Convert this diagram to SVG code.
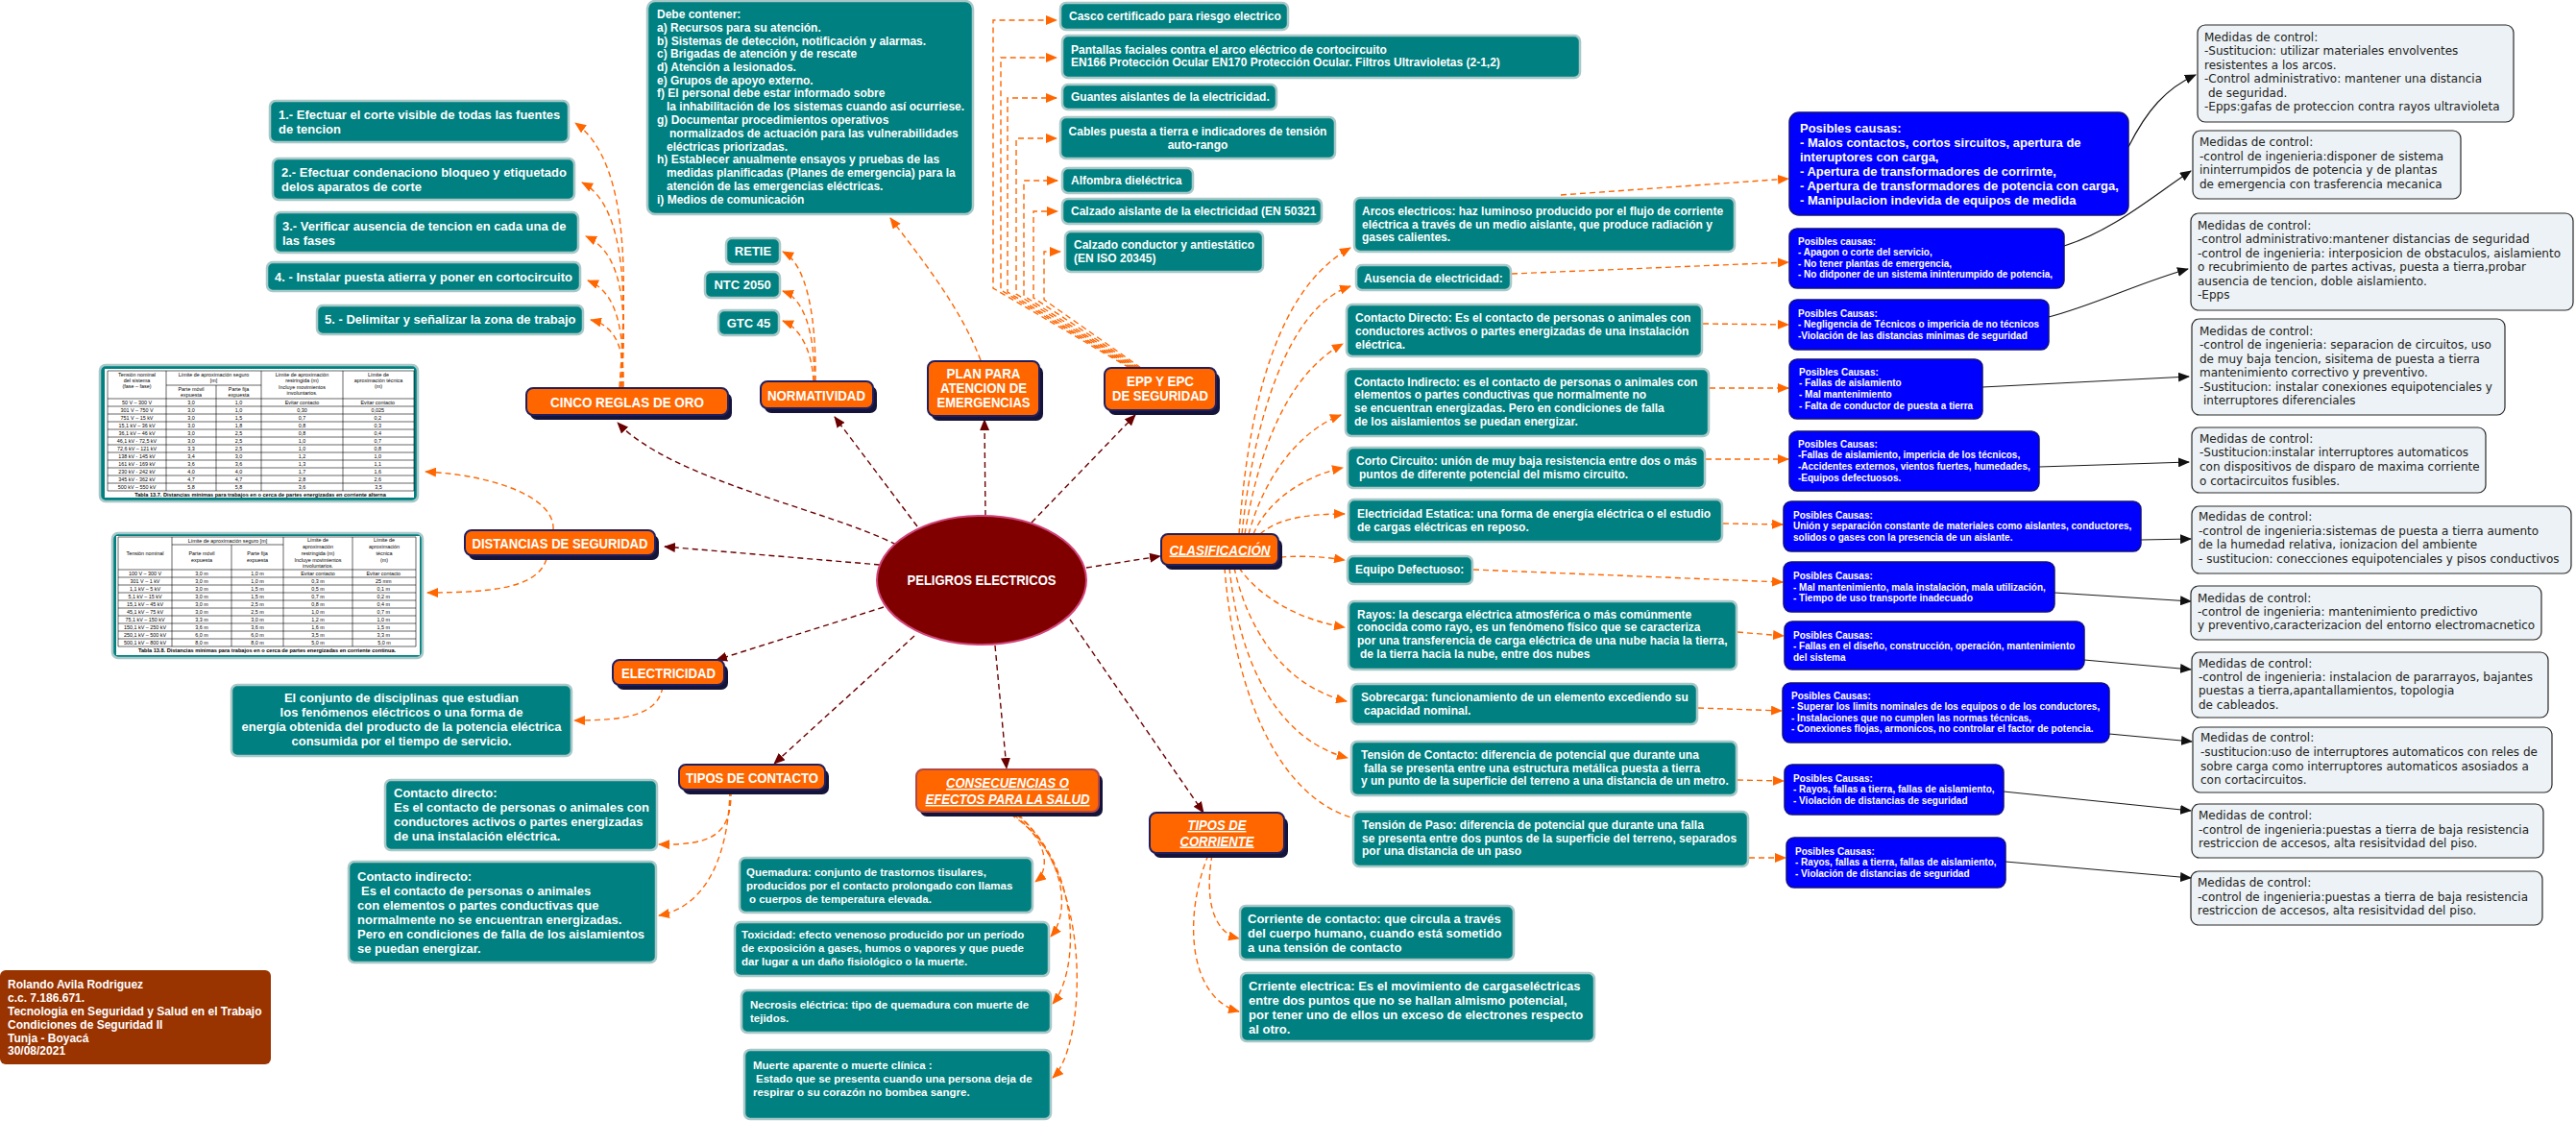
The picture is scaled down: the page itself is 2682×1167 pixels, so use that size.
<svg xmlns="http://www.w3.org/2000/svg" width="2682" height="1167" viewBox="0 0 2682 1167">
<style>
.teal{fill:#008080;stroke:#a8c8c8;stroke-width:2.5}
.org{fill:#ff6600;stroke:#202060;stroke-width:2}
.orr{fill:#ff6600;stroke:#b04848;stroke-width:2}
.sh{fill:#14143a}
.blue{fill:#0000ff;stroke:#101080;stroke-width:1.5}
.med{fill:#ecf2f5;stroke:#2a2a2a;stroke-width:1.2}
.wh{fill:#fff}
text{font-family:"Liberation Sans",Arial,sans-serif}
.w{fill:#fff;font-weight:bold}
.s13{font-size:13px}
.s12{font-size:12px}
.s115{font-size:11.5px}
.s10{font-size:10px}
.lab{fill:#fff;font-weight:bold;font-size:13px;text-anchor:middle}
.lb{fill:#fff;font-weight:bold;font-size:14.5px;text-anchor:middle}
.it{font-style:italic;text-decoration:underline}
.mt{font-family:"DejaVu Sans",Verdana,sans-serif;font-size:12px;fill:#222}
.tt{font-size:5.4px;fill:#000;text-anchor:middle}
.tc{font-size:5.6px;fill:#000;font-weight:bold;text-anchor:middle}
.tl{stroke:#000;stroke-width:0.6;fill:none}
.co{fill:none;stroke:#ff6600;stroke-width:1.4;stroke-dasharray:6 4}
.cr{fill:none;stroke:#6b0000;stroke-width:1.4;stroke-dasharray:6 4}
.cb{fill:none;stroke:#1a1a1a;stroke-width:1.2}
</style>
<defs>
<marker id="ao" viewBox="0 0 12 10" refX="11" refY="5" markerWidth="12" markerHeight="10" markerUnits="userSpaceOnUse" orient="auto"><path d="M0,0L12,5L0,10z" fill="#ff6600"/></marker>
<marker id="ar" viewBox="0 0 12 10" refX="11" refY="5" markerWidth="12" markerHeight="10" markerUnits="userSpaceOnUse" orient="auto"><path d="M0,0L12,5L0,10z" fill="#6b0000"/></marker>
<marker id="ab" viewBox="0 0 12 10" refX="11" refY="5" markerWidth="12" markerHeight="10" markerUnits="userSpaceOnUse" orient="auto"><path d="M0,0L12,5L0,10z" fill="#111"/></marker>
</defs>
<rect width="2682" height="1167" fill="#fff"/>

<g id="connectors">
<g marker-end="url(#ar)" class="cr">
<path d="M933,567 C860,530 700,500 643,440"/>
<path d="M916,588 L692,569"/>
<path d="M955,548 L869,434"/>
<path d="M1026,537 L1025,437"/>
<path d="M1074,544 L1182,432"/>
<path d="M1131,591 L1208,579"/>
<path d="M920,632 L746,687"/>
<path d="M952,662 L806,795"/>
<path d="M1036,672 L1048,800"/>
<path d="M1114,645 L1253,846"/>
</g>
<g marker-end="url(#ao)" class="co">
<path d="M645,403 C652,300 658,170 599,128"/>
<path d="M646,403 C652,320 654,215 606,190"/>
<path d="M647,403 C652,330 652,265 610,246"/>
<path d="M648,403 C650,350 645,305 612,292"/>
<path d="M649,403 C650,370 645,340 615,333"/>
<path d="M576,551 C578,520 520,495 443,491"/>
<path d="M569,582 C560,610 520,617 445,617"/>
<path d="M690,715 C685,745 650,750 598,750"/>
<path d="M849,397 C850,330 840,275 815,262"/>
<path d="M848,397 C848,340 835,310 815,303"/>
<path d="M847,397 C845,360 830,340 815,334"/>
<path d="M1021,375 C1000,320 960,270 927,227"/>
<path d="M1176,383 L1034,300 L1034,21 L1100,21"/>
<path d="M1178,383 L1042,302 L1042,60 L1100,60"/>
<path d="M1180,383 L1049,304 L1049,102 L1100,102"/>
<path d="M1182,383 L1058,306 L1058,144 L1100,144"/>
<path d="M1184,383 L1066,308 L1066,188 L1101,188"/>
<path d="M1186,383 L1076,310 L1076,220 L1101,220"/>
<path d="M1188,383 L1087,312 L1087,262 L1104,262"/>
<path d="M1290,556 C1300,420 1330,300 1406,258"/>
<path d="M1293,556 C1305,440 1340,320 1406,298"/>
<path d="M1296,556 C1310,470 1340,390 1398,358"/>
<path d="M1300,556 C1315,500 1350,450 1396,432"/>
<path d="M1305,556 C1320,520 1360,495 1398,487"/>
<path d="M1312,556 C1330,540 1360,535 1400,535"/>
<path d="M1333,580 C1360,578 1380,580 1400,583"/>
<path d="M1290,591 C1310,620 1350,645 1400,653"/>
<path d="M1285,591 C1300,660 1340,715 1402,730"/>
<path d="M1280,591 C1290,690 1330,770 1403,789"/>
<path d="M1625,203 L1862,186"/>
<path d="M1574,285 L1862,273"/>
<path d="M1773,337 L1862,338"/>
<path d="M1780,404 L1862,404"/>
<path d="M1776,478 L1862,478"/>
<path d="M1794,545 L1856,546"/>
<path d="M1534,593 L1856,606"/>
<path d="M1809,658 L1857,662"/>
<path d="M1768,737 L1855,740"/>
<path d="M1809,812 L1857,813"/>
<path d="M1821,893 L1859,893"/>
<path d="M761,823 C762,870 740,880 686,879"/>
<path d="M760,823 C758,900 730,945 686,953"/>
<path d="M1052,848 C1090,870 1095,905 1078,918"/>
<path d="M1055,848 C1110,890 1115,950 1094,975"/>
<path d="M1058,848 C1125,900 1125,1010 1096,1045"/>
<path d="M1060,848 C1140,920 1130,1090 1096,1122"/>
<path d="M1262,890 C1255,930 1260,970 1290,977"/>
<path d="M1258,890 C1230,960 1240,1040 1290,1053"/>
</g>
<path class="co" d="M1275,591 C1285,720 1330,830 1410,852"/>
<g marker-end="url(#ab)" class="cb">
<path d="M2216,153 C2235,115 2255,92 2286,78"/>
<path d="M2149,256 C2200,240 2240,205 2281,178"/>
<path d="M2133,330 C2180,318 2225,295 2278,280"/>
<path d="M2064,403 L2279,392"/>
<path d="M2123,486 L2279,481"/>
<path d="M2229,562 L2281,561"/>
<path d="M2139,617 L2281,626"/>
<path d="M2170,687 L2281,697"/>
<path d="M2196,764 L2282,772"/>
<path d="M2086,824 L2281,844"/>
<path d="M2088,897 L2281,914"/>
</g>
</g>

<g id="n-center"><ellipse cx="1022" cy="604" rx="109" ry="67" fill="#800000" stroke="#d0457a" stroke-width="2"/><text class="lb" x="1022" y="609" textLength="155" lengthAdjust="spacingAndGlyphs">PELIGROS ELECTRICOS</text></g>

<g id="n-cinco"><rect class="sh" x="552" y="409" width="210" height="28" rx="7"/><rect class="org" x="548" y="404" width="210" height="28" rx="7"/><text class="lb" x="653" y="423.5" textLength="160" lengthAdjust="spacingAndGlyphs">CINCO REGLAS DE ORO</text></g>
<g id="n-r1"><rect class="teal" x="281" y="105" width="311" height="43" rx="6"/><text class="w s13"><tspan x="290" y="124">1.- Efectuar el corte visible de todas las fuentes</tspan><tspan x="290" y="139">de tencion</tspan></text></g>
<g id="n-r2"><rect class="teal" x="284" y="165" width="314" height="43" rx="6"/><text class="w s13"><tspan x="293" y="184">2.- Efectuar condenaciono bloqueo y etiquetado</tspan><tspan x="293" y="199">delos aparatos de corte</tspan></text></g>
<g id="n-r3"><rect class="teal" x="286" y="221" width="316" height="42" rx="6"/><text class="w s13"><tspan x="294" y="240">3.- Verificar ausencia de tencion en cada una de</tspan><tspan x="294" y="255">las fases</tspan></text></g>
<g id="n-r4"><rect class="teal" x="278" y="273" width="326" height="30" rx="6"/><text class="w s13" x="286" y="293">4. - Instalar puesta atierra y poner en cortocircuito</text></g>
<g id="n-r5"><rect class="teal" x="330" y="318" width="277" height="30" rx="6"/><text class="w s13" x="338" y="337">5. - Delimitar y señalizar la zona de trabajo</text></g>

<g id="n-tabla1">
<rect class="teal" x="104" y="380" width="331" height="142" rx="6"/>
<rect class="wh" x="109" y="384" width="322" height="134"/>
<path class="tl" d="M112,386H431 M173,401H272 M112,415H431 M112,423H431 M112,431H431 M112,439H431 M112,447H431 M112,455H431 M112,463H431 M112,471H431 M112,479H431 M112,487H431 M112,495H431 M112,503H431 M112,511H431 M112,386V511 M173,386V511 M225,401V511 M272,386V511 M357,386V511 M431,386V511"/>
<text class="tt"><tspan x="142.5" y="392">Tensión nominal</tspan><tspan x="142.5" y="398">del sistema</tspan><tspan x="142.5" y="404">(fase – fase)</tspan><tspan x="222.5" y="392">Límite de aproximación seguro</tspan><tspan x="222.5" y="398">[m]</tspan><tspan x="199" y="407">Parte móvil</tspan><tspan x="199" y="413">expuesta</tspan><tspan x="248.5" y="407">Parte fija</tspan><tspan x="248.5" y="413">expuesta</tspan><tspan x="314.5" y="392">Límite de aproximación</tspan><tspan x="314.5" y="398">restringida (m)</tspan><tspan x="314.5" y="405">Incluye movimientos</tspan><tspan x="314.5" y="411">involuntarios.</tspan><tspan x="394" y="392">Límite de</tspan><tspan x="394" y="398">aproximación técnica</tspan><tspan x="394" y="404">(m)</tspan></text>
<text class="tt">
<tspan x="142.5" y="421">50 V – 300 V</tspan><tspan x="199" y="421">3,0</tspan><tspan x="248.5" y="421">1,0</tspan><tspan x="314.5" y="421">Evitar contacto</tspan><tspan x="394" y="421">Evitar contacto</tspan>
<tspan x="142.5" y="429">301 V – 750 V</tspan><tspan x="199" y="429">3,0</tspan><tspan x="248.5" y="429">1,0</tspan><tspan x="314.5" y="429">0,30</tspan><tspan x="394" y="429">0,025</tspan>
<tspan x="142.5" y="437">751 V – 15 kV</tspan><tspan x="199" y="437">3,0</tspan><tspan x="248.5" y="437">1,5</tspan><tspan x="314.5" y="437">0,7</tspan><tspan x="394" y="437">0,2</tspan>
<tspan x="142.5" y="445">15,1 kV – 36 kV</tspan><tspan x="199" y="445">3,0</tspan><tspan x="248.5" y="445">1,8</tspan><tspan x="314.5" y="445">0,8</tspan><tspan x="394" y="445">0,3</tspan>
<tspan x="142.5" y="453">36,1 kV – 46 kV</tspan><tspan x="199" y="453">3,0</tspan><tspan x="248.5" y="453">2,5</tspan><tspan x="314.5" y="453">0,8</tspan><tspan x="394" y="453">0,4</tspan>
<tspan x="142.5" y="461">46,1 kV - 72,5 kV</tspan><tspan x="199" y="461">3,0</tspan><tspan x="248.5" y="461">2,5</tspan><tspan x="314.5" y="461">1,0</tspan><tspan x="394" y="461">0,7</tspan>
<tspan x="142.5" y="469">72,6 kV – 121 kV</tspan><tspan x="199" y="469">3,3</tspan><tspan x="248.5" y="469">2,5</tspan><tspan x="314.5" y="469">1,0</tspan><tspan x="394" y="469">0,8</tspan>
<tspan x="142.5" y="477">138 kV - 145 kV</tspan><tspan x="199" y="477">3,4</tspan><tspan x="248.5" y="477">3,0</tspan><tspan x="314.5" y="477">1,2</tspan><tspan x="394" y="477">1,0</tspan>
<tspan x="142.5" y="485">161 kV - 169 kV</tspan><tspan x="199" y="485">3,6</tspan><tspan x="248.5" y="485">3,6</tspan><tspan x="314.5" y="485">1,3</tspan><tspan x="394" y="485">1,1</tspan>
<tspan x="142.5" y="493">230 kV - 242 kV</tspan><tspan x="199" y="493">4,0</tspan><tspan x="248.5" y="493">4,0</tspan><tspan x="314.5" y="493">1,7</tspan><tspan x="394" y="493">1,6</tspan>
<tspan x="142.5" y="501">345 kV - 362 kV</tspan><tspan x="199" y="501">4,7</tspan><tspan x="248.5" y="501">4,7</tspan><tspan x="314.5" y="501">2,8</tspan><tspan x="394" y="501">2,6</tspan>
<tspan x="142.5" y="509">500 kV – 550 kV</tspan><tspan x="199" y="509">5,8</tspan><tspan x="248.5" y="509">5,8</tspan><tspan x="314.5" y="509">3,6</tspan><tspan x="394" y="509">3,5</tspan>
</text>
<text class="tc" x="271" y="516.5">Tabla 13.7.  Distancias mínimas para trabajos en o cerca de partes energizadas en corriente alterna</text>
</g>

<g id="n-distancias"><rect class="sh" x="488" y="557" width="198" height="26" rx="7"/><rect class="org" x="484" y="552" width="198" height="26" rx="7"/><text class="lb" x="583" y="570.5" textLength="183" lengthAdjust="spacingAndGlyphs">DISTANCIAS DE SEGURIDAD</text></g>

<g id="n-tabla2">
<rect class="teal" x="117" y="555" width="323" height="130" rx="6"/>
<rect class="wh" x="121" y="558" width="316" height="124"/>
<path class="tl" d="M123,559H433 M179,567H295 M123,593H433 M123,601H433 M123,609H433 M123,617H433 M123,625H433 M123,633H433 M123,641H433 M123,649H433 M123,657H433 M123,665H433 M123,673H433 M123,559V673 M179,559V673 M241,567V673 M295,559V673 M367,559V673 M433,559V673"/>
<text class="tt"><tspan x="151" y="578">Tensión nominal</tspan><tspan x="237" y="565">Límite de aproximación seguro [m]</tspan><tspan x="210" y="578">Parte móvil</tspan><tspan x="210" y="585">expuesta</tspan><tspan x="268" y="578">Parte fija</tspan><tspan x="268" y="585">expuesta</tspan><tspan x="331" y="564">Límite de</tspan><tspan x="331" y="571">aproximación</tspan><tspan x="331" y="578">restringida (m)</tspan><tspan x="331" y="585">Incluye movimientos</tspan><tspan x="331" y="591">involuntarios.</tspan><tspan x="400" y="564">Límite de</tspan><tspan x="400" y="571">aproximación</tspan><tspan x="400" y="578">técnica</tspan><tspan x="400" y="585">(m)</tspan></text>
<text class="tt">
<tspan x="151" y="599">100 V – 300 V</tspan><tspan x="210" y="599">3,0 m</tspan><tspan x="268" y="599">1,0 m</tspan><tspan x="331" y="599">Evitar contacto</tspan><tspan x="400" y="599">Evitar contacto</tspan>
<tspan x="151" y="607">301 V – 1 kV</tspan><tspan x="210" y="607">3,0 m</tspan><tspan x="268" y="607">1,0 m</tspan><tspan x="331" y="607">0,3 m</tspan><tspan x="400" y="607">25 mm</tspan>
<tspan x="151" y="615">1,1 kV – 5 kV</tspan><tspan x="210" y="615">3,0 m</tspan><tspan x="268" y="615">1,5 m</tspan><tspan x="331" y="615">0,5 m</tspan><tspan x="400" y="615">0,1 m</tspan>
<tspan x="151" y="623">5,1 kV – 15 kV</tspan><tspan x="210" y="623">3,0 m</tspan><tspan x="268" y="623">1,5 m</tspan><tspan x="331" y="623">0,7 m</tspan><tspan x="400" y="623">0,2 m</tspan>
<tspan x="151" y="631">15,1 kV – 45 kV</tspan><tspan x="210" y="631">3,0 m</tspan><tspan x="268" y="631">2,5 m</tspan><tspan x="331" y="631">0,8 m</tspan><tspan x="400" y="631">0,4 m</tspan>
<tspan x="151" y="639">45,1 kV – 75 kV</tspan><tspan x="210" y="639">3,0 m</tspan><tspan x="268" y="639">2,5 m</tspan><tspan x="331" y="639">1,0 m</tspan><tspan x="400" y="639">0,7 m</tspan>
<tspan x="151" y="647">75,1 kV – 150 kV</tspan><tspan x="210" y="647">3,3 m</tspan><tspan x="268" y="647">3,0 m</tspan><tspan x="331" y="647">1,2 m</tspan><tspan x="400" y="647">1,0 m</tspan>
<tspan x="151" y="655">150,1 kV – 250 kV</tspan><tspan x="210" y="655">3,6 m</tspan><tspan x="268" y="655">3,6 m</tspan><tspan x="331" y="655">1,6 m</tspan><tspan x="400" y="655">1,5 m</tspan>
<tspan x="151" y="663">250,1 kV – 500 kV</tspan><tspan x="210" y="663">6,0 m</tspan><tspan x="268" y="663">6,0 m</tspan><tspan x="331" y="663">3,5 m</tspan><tspan x="400" y="663">3,3 m</tspan>
<tspan x="151" y="671">500,1 kV – 800 kV</tspan><tspan x="210" y="671">8,0 m</tspan><tspan x="268" y="671">8,0 m</tspan><tspan x="331" y="671">5,0 m</tspan><tspan x="400" y="671">5,0 m</tspan>
</text>
<text class="tc" x="278" y="679">Tabla 13.8. Distancias mínimas para trabajos en o cerca de partes energizadas en corriente continua.</text>
</g>

<g id="n-electricidad"><rect class="sh" x="642" y="692" width="116" height="26" rx="7"/><rect class="org" x="638" y="687" width="116" height="26" rx="7"/><text class="lb" x="696" y="705.5" textLength="98" lengthAdjust="spacingAndGlyphs">ELECTRICIDAD</text></g>
<g id="n-elec-def"><rect class="teal" x="241" y="713" width="354" height="74" rx="6"/><text class="w s13" text-anchor="middle"><tspan x="418" y="731">El conjunto de disciplinas que estudian</tspan><tspan x="418" y="746">los fenómenos eléctricos o una forma de</tspan><tspan x="418" y="761">energía obtenida del producto de la potencia eléctrica</tspan><tspan x="418" y="776">consumida por el tiempo de servicio.</tspan></text></g>

<g id="n-tipos-contacto"><rect class="sh" x="711" y="801" width="152" height="26" rx="7"/><rect class="org" x="707" y="796" width="152" height="26" rx="7"/><text class="lb" x="783" y="814.5" textLength="138" lengthAdjust="spacingAndGlyphs">TIPOS DE CONTACTO</text></g>
<g id="n-cdirecto"><rect class="teal" x="401" y="812" width="283" height="73" rx="6"/><text class="w s13"><tspan x="410" y="830">Contacto directo:</tspan><tspan x="410" y="845">Es el contacto de personas o animales con</tspan><tspan x="410" y="860">conductores activos o partes energizadas</tspan><tspan x="410" y="875">de una instalación eléctrica.</tspan></text></g>
<g id="n-cindirecto"><rect class="teal" x="363" y="897" width="320" height="105" rx="6"/><text class="w s13"><tspan x="372" y="917">Contacto indirecto:</tspan><tspan x="376" y="932">Es el contacto de personas o animales</tspan><tspan x="372" y="947">con elementos o partes conductivas que</tspan><tspan x="372" y="962">normalmente no se encuentran energizadas.</tspan><tspan x="372" y="977">Pero en condiciones de falla de los aislamientos</tspan><tspan x="372" y="992">se puedan energizar.</tspan></text></g>

<g id="n-autor"><rect x="0" y="1010" width="282" height="98" rx="6" fill="#993300"/><text class="w s12"><tspan x="8" y="1029">Rolando Avila Rodriguez</tspan><tspan x="8" y="1043">c.c. 7.186.671.</tspan><tspan x="8" y="1057">Tecnologia en Seguridad y Salud en el Trabajo</tspan><tspan x="8" y="1071">Condiciones de Seguridad II</tspan><tspan x="8" y="1085">Tunja - Boyacá</tspan><tspan x="8" y="1098">30/08/2021</tspan></text></g>

<g id="n-consecuencias"><rect class="sh" x="958" y="806" width="190" height="44" rx="7"/><rect class="orr" x="954" y="801" width="190" height="44" rx="7"/><text class="lb it" x="1049" y="820" textLength="128" lengthAdjust="spacingAndGlyphs">CONSECUENCIAS O</text><text class="lb it" x="1049" y="837" textLength="171" lengthAdjust="spacingAndGlyphs">EFECTOS PARA LA SALUD</text></g>
<g id="n-quemadura"><rect class="teal" x="770" y="893" width="305" height="57" rx="6"/><text class="w s115"><tspan x="777" y="912">Quemadura: conjunto de trastornos tisulares,</tspan><tspan x="777" y="926">producidos por el contacto prolongado con llamas</tspan><tspan x="780" y="940">o cuerpos de temperatura elevada.</tspan></text></g>
<g id="n-toxicidad"><rect class="teal" x="765" y="960" width="327" height="56" rx="6"/><text class="w s115"><tspan x="772" y="977">Toxicidad: efecto venenoso producido por un período</tspan><tspan x="772" y="991">de exposición a gases, humos o vapores y que puede</tspan><tspan x="772" y="1005">dar lugar a un daño fisiológico o la muerte.</tspan></text></g>
<g id="n-necrosis"><rect class="teal" x="772" y="1031" width="322" height="44" rx="6"/><text class="w s115"><tspan x="781" y="1050">Necrosis eléctrica: tipo de quemadura con muerte de</tspan><tspan x="781" y="1064">tejidos.</tspan></text></g>
<g id="n-muerte"><rect class="teal" x="775" y="1093" width="319" height="72" rx="6"/><text class="w s115"><tspan x="784" y="1113">Muerte aparente o muerte clínica :</tspan><tspan x="787" y="1127">Estado que se presenta cuando una persona deja de</tspan><tspan x="784" y="1141">respirar o su corazón no bombea sangre.</tspan></text></g>

<g id="n-normatividad"><rect class="sh" x="796" y="402" width="117" height="28" rx="7"/><rect class="org" x="792" y="397" width="117" height="28" rx="7"/><text class="lb" x="850" y="416.5" textLength="102" lengthAdjust="spacingAndGlyphs">NORMATIVIDAD</text></g>
<g id="n-retie"><rect class="teal" x="756" y="248" width="56" height="27" rx="6"/><text class="lab" x="784" y="266">RETIE</text></g>
<g id="n-ntc"><rect class="teal" x="734" y="283" width="78" height="27" rx="6"/><text class="lab" x="773" y="301">NTC 2050</text></g>
<g id="n-gtc"><rect class="teal" x="748" y="323" width="63" height="26" rx="6"/><text class="lab" x="779.5" y="341">GTC 45</text></g>

<g id="n-plan"><rect class="sh" x="970" y="381" width="116" height="57" rx="7"/><rect class="org" x="966" y="376" width="116" height="57" rx="7"/><text class="lb" x="1024" y="393.5" textLength="77" lengthAdjust="spacingAndGlyphs">PLAN PARA</text><text class="lb" x="1024" y="408.5" textLength="90" lengthAdjust="spacingAndGlyphs">ATENCION DE</text><text class="lb" x="1024" y="423.5" textLength="97" lengthAdjust="spacingAndGlyphs">EMERGENCIAS</text></g>
<g id="n-debe"><rect class="teal" x="674" y="1" width="339" height="222" rx="8"/><text class="w s12"><tspan x="684" y="19">Debe contener:</tspan><tspan x="684" y="33">a) Recursos para su atención.</tspan><tspan x="684" y="47">b) Sistemas de detección, notificación y alarmas.</tspan><tspan x="684" y="60">c) Brigadas de atención y de rescate</tspan><tspan x="684" y="74">d) Atención a lesionados.</tspan><tspan x="684" y="88">e) Grupos de apoyo externo.</tspan><tspan x="684" y="101">f) El personal debe estar informado sobre</tspan><tspan x="694" y="115">la inhabilitación de los sistemas cuando así ocurriese.</tspan><tspan x="684" y="129">g) Documentar procedimientos operativos</tspan><tspan x="697" y="143">normalizados de actuación para las vulnerabilidades</tspan><tspan x="694" y="157">eléctricas priorizadas.</tspan><tspan x="684" y="170">h) Establecer anualmente ensayos y pruebas de las</tspan><tspan x="694" y="184">medidas planificadas (Planes de emergencia) para la</tspan><tspan x="694" y="198">atención de las emergencias eléctricas.</tspan><tspan x="684" y="212">i) Medios de comunicación</tspan></text></g>

<g id="n-epp"><rect class="sh" x="1154" y="388" width="116" height="44" rx="7"/><rect class="org" x="1150" y="383" width="116" height="44" rx="7"/><text class="lb" x="1208" y="401.5" textLength="70" lengthAdjust="spacingAndGlyphs">EPP Y EPC</text><text class="lb" x="1208" y="416.5" textLength="100" lengthAdjust="spacingAndGlyphs">DE SEGURIDAD</text></g>
<g id="n-casco"><rect class="teal" x="1104" y="3" width="237" height="28" rx="6"/><text class="w s12" x="1113" y="21">Casco certificado para riesgo electrico</text></g>
<g id="n-pantallas"><rect class="teal" x="1106" y="37" width="539" height="44" rx="6"/><text class="w s12"><tspan x="1115" y="56">Pantallas faciales contra el arco eléctrico de cortocircuito</tspan><tspan x="1115" y="69">EN166 Protección Ocular EN170 Protección Ocular. Filtros Ultravioletas (2-1,2)</tspan></text></g>
<g id="n-guantes"><rect class="teal" x="1106" y="88" width="223" height="26" rx="6"/><text class="w s12" x="1115" y="105">Guantes aislantes de la electricidad.</text></g>
<g id="n-cables"><rect class="teal" x="1104" y="122" width="286" height="43" rx="6"/><text class="w s12" text-anchor="middle"><tspan x="1247" y="141">Cables puesta a tierra e indicadores de tensión</tspan><tspan x="1247" y="155">auto-rango</tspan></text></g>
<g id="n-alfombra"><rect class="teal" x="1106" y="175" width="136" height="26" rx="6"/><text class="w s12" x="1115" y="192">Alfombra dieléctrica</text></g>
<g id="n-calz1"><rect class="teal" x="1106" y="207" width="270" height="26" rx="6"/><text class="w s12" x="1115" y="224">Calzado aislante de la electricidad (EN 50321</text></g>
<g id="n-calz2"><rect class="teal" x="1109" y="241" width="206" height="42" rx="6"/><text class="w s12"><tspan x="1118" y="259">Calzado conductor y antiestático</tspan><tspan x="1118" y="273">(EN ISO 20345)</tspan></text></g>

<g id="n-clasificacion"><rect class="sh" x="1213" y="561" width="122" height="32" rx="7"/><rect class="org" x="1209" y="556" width="122" height="32" rx="7"/><text class="lb it" x="1270" y="577.5" textLength="105" lengthAdjust="spacingAndGlyphs">CLASIFICACIÓN</text></g>
<g id="n-tipos-corriente"><rect class="sh" x="1201" y="851" width="140" height="42" rx="7"/><rect class="org" x="1197" y="846" width="140" height="42" rx="7"/><text class="lb it" x="1267" y="864" textLength="61" lengthAdjust="spacingAndGlyphs">TIPOS DE</text><text class="lb it" x="1267" y="880.5" textLength="77" lengthAdjust="spacingAndGlyphs">CORRIENTE</text></g>
<g id="n-corr-contacto"><rect class="teal" x="1291" y="943" width="285" height="56" rx="6"/><text class="w s13"><tspan x="1299" y="961">Corriente de contacto: que circula a través</tspan><tspan x="1299" y="976">del cuerpo humano, cuando está sometido</tspan><tspan x="1299" y="991">a una tensión de contacto</tspan></text></g>
<g id="n-corr-electrica"><rect class="teal" x="1292" y="1013" width="368" height="71" rx="6"/><text class="w s13"><tspan x="1300" y="1031">Crriente electrica: Es el movimiento de cargaseléctricas</tspan><tspan x="1300" y="1046">entre dos puntos que no se hallan almismo potencial,</tspan><tspan x="1300" y="1061">por tener uno de ellos un exceso de electrones respecto</tspan><tspan x="1300" y="1076">al otro.</tspan></text></g>

<g id="n-arcos"><rect class="teal" x="1410" y="206" width="396" height="56" rx="6"/><text class="w s12"><tspan x="1418" y="224">Arcos electricos: haz luminoso producido por el flujo de corriente</tspan><tspan x="1418" y="238">eléctrica a través de un medio aislante, que produce radiación y</tspan><tspan x="1418" y="251">gases calientes.</tspan></text></g>
<g id="n-ausencia"><rect class="teal" x="1412" y="276" width="161" height="26" rx="6"/><text class="w s12" x="1420" y="294">Ausencia de electricidad:</text></g>
<g id="n-cdir2"><rect class="teal" x="1402" y="317" width="370" height="54" rx="6"/><text class="w s12"><tspan x="1411" y="335">Contacto Directo: Es el contacto de personas o animales con</tspan><tspan x="1411" y="349">conductores activos o partes energizadas de una instalación</tspan><tspan x="1411" y="363">eléctrica.</tspan></text></g>
<g id="n-cind2"><rect class="teal" x="1401" y="384" width="378" height="70" rx="6"/><text class="w s12"><tspan x="1410" y="402">Contacto Indirecto: es el contacto de personas o animales con</tspan><tspan x="1410" y="415">elementos o partes conductivas que normalmente no</tspan><tspan x="1410" y="429">se encuentran energizadas. Pero en condiciones de falla</tspan><tspan x="1410" y="443">de los aislamientos se puedan energizar.</tspan></text></g>
<g id="n-corto"><rect class="teal" x="1403" y="466" width="372" height="42" rx="6"/><text class="w s12"><tspan x="1412" y="484">Corto Circuito: unión de muy baja resistencia entre dos o más</tspan><tspan x="1415" y="498">puntos de diferente potencial del mismo circuito.</tspan></text></g>
<g id="n-estatica"><rect class="teal" x="1404" y="520" width="389" height="44" rx="6"/><text class="w s12"><tspan x="1413" y="539">Electricidad Estatica: una forma de energía eléctrica o el estudio</tspan><tspan x="1413" y="553">de cargas eléctricas en reposo.</tspan></text></g>
<g id="n-equipo"><rect class="teal" x="1403" y="579" width="130" height="29" rx="6"/><text class="w s12" x="1411" y="597">Equipo Defectuoso:</text></g>
<g id="n-rayos"><rect class="teal" x="1404" y="626" width="404" height="71" rx="6"/><text class="w s12"><tspan x="1413" y="644">Rayos:  la descarga eléctrica atmosférica o más comúnmente</tspan><tspan x="1413" y="657">conocida como rayo, es un fenómeno físico que se caracteriza</tspan><tspan x="1413" y="671">por una transferencia de carga eléctrica de una nube hacia la tierra,</tspan><tspan x="1416" y="685">de la tierra hacia la nube, entre dos nubes</tspan></text></g>
<g id="n-sobrecarga"><rect class="teal" x="1407" y="712" width="360" height="42" rx="6"/><text class="w s12"><tspan x="1417" y="730">Sobrecarga: funcionamiento de un elemento excediendo su</tspan><tspan x="1420" y="744">capacidad nominal.</tspan></text></g>
<g id="n-tcontacto"><rect class="teal" x="1407" y="772" width="401" height="56" rx="6"/><text class="w s12"><tspan x="1417" y="790">Tensión de Contacto: diferencia de potencial que durante una</tspan><tspan x="1420" y="804">falla se presenta entre una estructura metálica puesta a tierra</tspan><tspan x="1417" y="817">y un punto de la superficie del terreno a una distancia de un metro.</tspan></text></g>
<g id="n-tpaso"><rect class="teal" x="1409" y="845" width="411" height="57" rx="6"/><text class="w s12"><tspan x="1418" y="863">Tensión de Paso: diferencia de potencial que durante una falla</tspan><tspan x="1418" y="877">se presenta entre dos puntos de la superficie del terreno, separados</tspan><tspan x="1418" y="890">por una distancia de un paso</tspan></text></g>

<g id="n-pc1"><rect class="blue" x="1863" y="117" width="353" height="107" rx="10"/><text class="w s13"><tspan x="1874" y="138">Posibles causas:</tspan><tspan x="1874" y="153">- Malos contactos, cortos sircuitos, apertura de</tspan><tspan x="1874" y="168">interuptores con carga,</tspan><tspan x="1874" y="183">- Apertura de transformadores de corrirnte,</tspan><tspan x="1874" y="198">- Apertura de transformadores de potencia con carga,</tspan><tspan x="1874" y="213">- Manipulacion indevida de equipos de medida</tspan></text></g>
<g id="n-pc2"><rect class="blue" x="1863" y="238" width="286" height="62" rx="8"/><text class="w s10"><tspan x="1872" y="255">Posibles causas:</tspan><tspan x="1872" y="266">- Apagon o corte del servicio,</tspan><tspan x="1872" y="278">- No tener  plantas de emergencia,</tspan><tspan x="1872" y="289">- No didponer de un sistema ininterumpido de potencia,</tspan></text></g>
<g id="n-pc3"><rect class="blue" x="1863" y="312" width="270" height="52" rx="8"/><text class="w s10"><tspan x="1872" y="330">Posibles Causas:</tspan><tspan x="1872" y="341">- Negligencia de Técnicos o impericia de no técnicos</tspan><tspan x="1872" y="353">-Violación de las distancias minimas de seguridad</tspan></text></g>
<g id="n-pc4"><rect class="blue" x="1863" y="374" width="201" height="62" rx="8"/><text class="w s10"><tspan x="1873" y="391">Posibles Causas:</tspan><tspan x="1873" y="402">- Fallas de aislamiento</tspan><tspan x="1873" y="414">- Mal mantenimiento</tspan><tspan x="1873" y="426">- Falta de conductor de puesta a tierra</tspan></text></g>
<g id="n-pc5"><rect class="blue" x="1863" y="449" width="260" height="62" rx="8"/><text class="w s10"><tspan x="1872" y="466">Posibles Causas:</tspan><tspan x="1872" y="477">-Fallas de aislamiento, impericia de los técnicos,</tspan><tspan x="1872" y="489">-Accidentes externos, vientos fuertes, humedades,</tspan><tspan x="1872" y="501">-Equipos defectuosos.</tspan></text></g>
<g id="n-pc6"><rect class="blue" x="1857" y="522" width="372" height="52" rx="8"/><text class="w s10"><tspan x="1867" y="540">Posibles Causas:</tspan><tspan x="1867" y="551">Unión y separación constante de materiales como aislantes, conductores,</tspan><tspan x="1867" y="563">solidos o gases con la presencia de un aislante.</tspan></text></g>
<g id="n-pc7"><rect class="blue" x="1857" y="585" width="282" height="52" rx="8"/><text class="w s10"><tspan x="1867" y="603">Posibles Causas:</tspan><tspan x="1867" y="615">- Mal mantenimiento, mala instalación, mala utilización,</tspan><tspan x="1867" y="626">- Tiempo de uso transporte inadecuado</tspan></text></g>
<g id="n-pc8"><rect class="blue" x="1858" y="647" width="312" height="50" rx="8"/><text class="w s10"><tspan x="1867" y="665">Posibles Causas:</tspan><tspan x="1867" y="676">- Fallas en el diseño, construcción, operación, mantenimiento</tspan><tspan x="1867" y="688">del sistema</tspan></text></g>
<g id="n-pc9"><rect class="blue" x="1856" y="711" width="340" height="62" rx="8"/><text class="w s10"><tspan x="1865" y="728">Posibles Causas:</tspan><tspan x="1865" y="739">- Superar los limits nominales de los equipos o de los conductores,</tspan><tspan x="1865" y="751">- Instalaciones que no cumplen las normas técnicas,</tspan><tspan x="1865" y="762">- Conexiones flojas, armonicos, no controlar el factor de potencia.</tspan></text></g>
<g id="n-pc10"><rect class="blue" x="1858" y="796" width="228" height="52" rx="8"/><text class="w s10"><tspan x="1867" y="814">Posibles Causas:</tspan><tspan x="1867" y="825">- Rayos, fallas a tierra, fallas de aislamiento,</tspan><tspan x="1867" y="837">- Violación de distancias de seguridad</tspan></text></g>
<g id="n-pc11"><rect class="blue" x="1860" y="872" width="228" height="52" rx="8"/><text class="w s10"><tspan x="1869" y="890">Posibles Causas:</tspan><tspan x="1869" y="901">- Rayos, fallas a tierra, fallas de aislamiento,</tspan><tspan x="1869" y="913">- Violación de distancias de seguridad</tspan></text></g>

<g id="n-mc1"><rect class="med" x="2288" y="26" width="329" height="101" rx="8"/><text class="mt"><tspan x="2295" y="43">Medidas de control:</tspan><tspan x="2295" y="57">-Sustitucion: utilizar materiales envolventes</tspan><tspan x="2295" y="72">resistentes a los arcos.</tspan><tspan x="2295" y="86">-Control administrativo: mantener una distancia</tspan><tspan x="2299" y="101">de seguridad.</tspan><tspan x="2295" y="115">-Epps:gafas de proteccion contra rayos ultravioleta</tspan></text></g>
<g id="n-mc2"><rect class="med" x="2283" y="136" width="279" height="71" rx="8"/><text class="mt"><tspan x="2290" y="152">Medidas de control:</tspan><tspan x="2290" y="167">-control de ingenieria:disponer de sistema</tspan><tspan x="2290" y="181">ininterrumpidos de potencia y de plantas</tspan><tspan x="2290" y="196">de emergencia con trasferencia mecanica</tspan></text></g>
<g id="n-mc3"><rect class="med" x="2281" y="222" width="398" height="101" rx="8"/><text class="mt"><tspan x="2288" y="239">Medidas de control:</tspan><tspan x="2288" y="253">-control administrativo:mantener distancias de seguridad</tspan><tspan x="2288" y="268">-control de ingenieria: interposicion de obstaculos, aislamiento</tspan><tspan x="2288" y="282">o recubrimiento de partes activas, puesta a tierra,probar</tspan><tspan x="2288" y="297">ausencia de tencion, doble aislamiento.</tspan><tspan x="2288" y="311">-Epps</tspan></text></g>
<g id="n-mc4"><rect class="med" x="2282" y="332" width="326" height="100" rx="8"/><text class="mt"><tspan x="2290" y="349">Medidas de control:</tspan><tspan x="2290" y="363">-control de ingenieria: separacion de circuitos, uso</tspan><tspan x="2290" y="378">de muy baja tencion, sisitema de puesta a tierra</tspan><tspan x="2290" y="392">mantenimiento correctivo y preventivo.</tspan><tspan x="2290" y="407">-Sustitucion: instalar conexiones equipotenciales y</tspan><tspan x="2294" y="421">interruptores diferenciales</tspan></text></g>
<g id="n-mc5"><rect class="med" x="2282" y="445" width="306" height="68" rx="8"/><text class="mt"><tspan x="2290" y="461">Medidas de control:</tspan><tspan x="2290" y="475">-Sustitucion:instalar interruptores automaticos</tspan><tspan x="2290" y="490">con dispositivos de disparo de maxima corriente</tspan><tspan x="2290" y="505">o cortacircuitos fusibles.</tspan></text></g>
<g id="n-mc6"><rect class="med" x="2282" y="527" width="395" height="70" rx="8"/><text class="mt"><tspan x="2289" y="542">Medidas de control:</tspan><tspan x="2289" y="557">-control de ingenieria:sistemas de puesta a tierra aumento</tspan><tspan x="2289" y="571">de la humedad relativa, ionizacion del ambiente</tspan><tspan x="2289" y="586">- sustitucion: conecciones equipotenciales y pisos conductivos</tspan></text></g>
<g id="n-mc7"><rect class="med" x="2281" y="610" width="365" height="56" rx="8"/><text class="mt"><tspan x="2288" y="627">Medidas de control:</tspan><tspan x="2288" y="641">-control de ingenieria: mantenimiento predictivo</tspan><tspan x="2288" y="655">y preventivo,caracterizacion del entorno electromacnetico</tspan></text></g>
<g id="n-mc8"><rect class="med" x="2282" y="679" width="371" height="68" rx="8"/><text class="mt"><tspan x="2289" y="695">Medidas de control:</tspan><tspan x="2289" y="709">-control de ingenieria: instalacion de pararrayos, bajantes</tspan><tspan x="2289" y="723">puestas a tierra,apantallamientos, topologia</tspan><tspan x="2289" y="738">de cableados.</tspan></text></g>
<g id="n-mc9"><rect class="med" x="2283" y="757" width="374" height="68" rx="8"/><text class="mt"><tspan x="2291" y="772">Medidas de control:</tspan><tspan x="2291" y="787">-sustitucion:uso de interruptores automaticos con reles de</tspan><tspan x="2291" y="802">sobre carga como interruptores automaticos asosiados a</tspan><tspan x="2291" y="816">con cortacircuitos.</tspan></text></g>
<g id="n-mc10"><rect class="med" x="2282" y="837" width="366" height="56" rx="8"/><text class="mt"><tspan x="2289" y="853">Medidas de control:</tspan><tspan x="2289" y="868">-control de ingenieria:puestas a tierra de baja resistencia</tspan><tspan x="2289" y="882">restriccion de accesos, alta resisitvidad del piso.</tspan></text></g>
<g id="n-mc11"><rect class="med" x="2281" y="907" width="366" height="56" rx="8"/><text class="mt"><tspan x="2288" y="923">Medidas de control:</tspan><tspan x="2288" y="938">-control de ingenieria:puestas a tierra de baja resistencia</tspan><tspan x="2288" y="952">restriccion de accesos, alta resisitvidad del piso.</tspan></text></g>
</svg>
